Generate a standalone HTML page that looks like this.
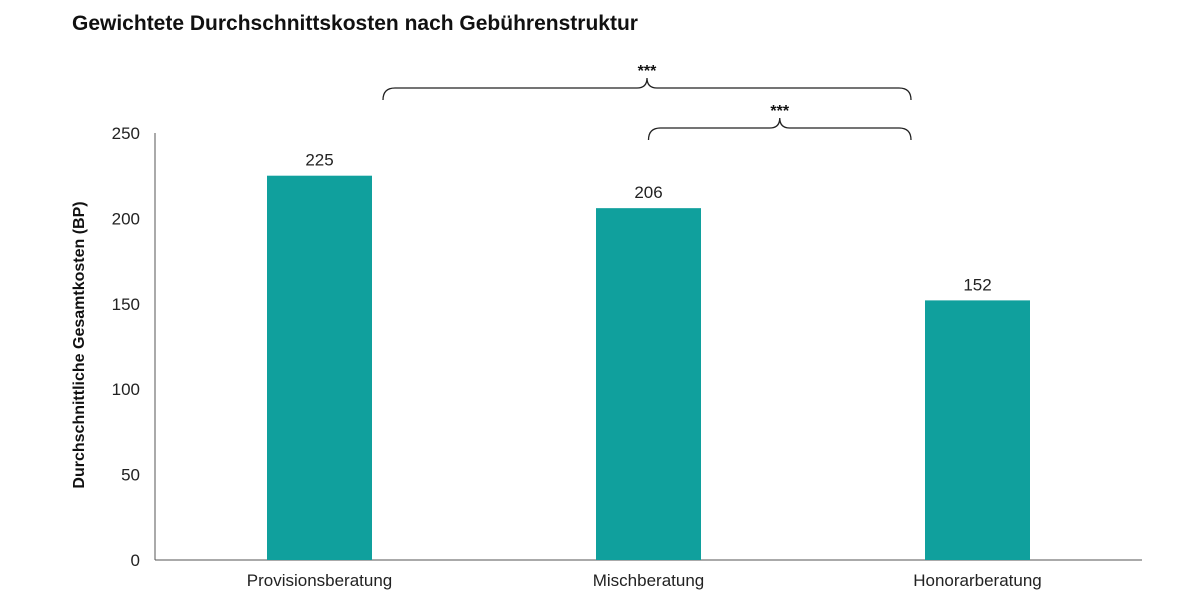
<!DOCTYPE html>
<html><head><meta charset="utf-8"><style>
html,body{margin:0;padding:0;background:#fff;}
svg{display:block;font-family:"Liberation Sans",sans-serif;}
</style></head><body>
<svg id="chart" width="1200" height="600" viewBox="0 0 1200 600">
<text x="72" y="30" font-size="21" font-weight="bold" fill="#111">Gewichtete Durchschnittskosten nach Gebührenstruktur</text>
<text transform="translate(84,345) rotate(-90)" text-anchor="middle" font-size="16" font-weight="bold" fill="#111">Durchschnittliche Gesamtkosten (BP)</text>
<g id="axes"></g>
<g id="bars"></g>
<g id="sig" fill="none" stroke="#222" stroke-width="1.3"></g>
</svg>
<script>
const categories = ["Provisionsberatung","Mischberatung","Honorarberatung"];
const values = [225,206,152];
const yTicks = [0,50,100,150,200,250];
const sigPairs = [[0,2],[1,2]];
const sigLabels = ["***","***"];

const NS="http://www.w3.org/2000/svg";
const svg=document.getElementById('chart');
const x0=155,x1=1142,yBase=560,yTop=133,yMax=250;
const y=v=>yBase-(v/yMax)*(yBase-yTop);
const band=(x1-x0)/categories.length;
const xc=i=>x0+band*(i+0.5);
const barW=105;
function mk(tag,attrs,parent){const e=document.createElementNS(NS,tag);for(const k in attrs)e.setAttribute(k,attrs[k]);parent.appendChild(e);return e;}
const axes=document.getElementById('axes');
let l=mk('line',{x1:x0,y1:yTop,x2:x0,y2:yBase,stroke:'#555','stroke-width':1},axes);


l=mk('line',{x1:x0,y1:yBase,x2:x1,y2:yBase,stroke:'#555','stroke-width':1},axes);


yTicks.forEach(t=>{
  const tx=mk('text',{x:140,y:y(t)+6,'text-anchor':'end','font-size':17,fill:'#222'},axes);
  tx.textContent=t;
  
  
});
const bars=document.getElementById('bars');
categories.forEach((c,i)=>{
  const r=mk('rect',{x:xc(i)-barW/2,y:y(values[i]),width:barW,height:yBase-y(values[i]),fill:'#10a09d'},bars);
  
  
  const v=mk('text',{x:xc(i),y:y(values[i])-10,'text-anchor':'middle','font-size':17,fill:'#222'},bars);
  v.textContent=values[i];
  
  
  const xl=mk('text',{x:xc(i),y:586,'text-anchor':'middle','font-size':17,fill:'#222'},bars);
  xl.textContent=c;
  
  
});
const sig=document.getElementById('sig');
sigPairs.forEach((p,k)=>{
  const a=k===0?xc(p[0])+barW/2+11:xc(p[0]);
  const b=xc(p[1])-barW/2-14;
  const m=(a+b)/2, yb=k===0?100:140, yt=yb-12;
  const d=`M${a},${yb} Q${a},${yt} ${a+12},${yt} L${m-10},${yt} Q${m},${yt} ${m},${yt-10} Q${m},${yt} ${m+10},${yt} L${b-12},${yt} Q${b},${yt} ${b},${yb}`;
  const pth=mk('path',{d:d},sig);
  
  
  const t=mk('text',{x:m,y:yt-12,'text-anchor':'middle','font-size':16,'font-weight':'bold',fill:'#111',stroke:'none'},sig);
  t.textContent=sigLabels[k];
  
  
});
</script>
</body></html>
